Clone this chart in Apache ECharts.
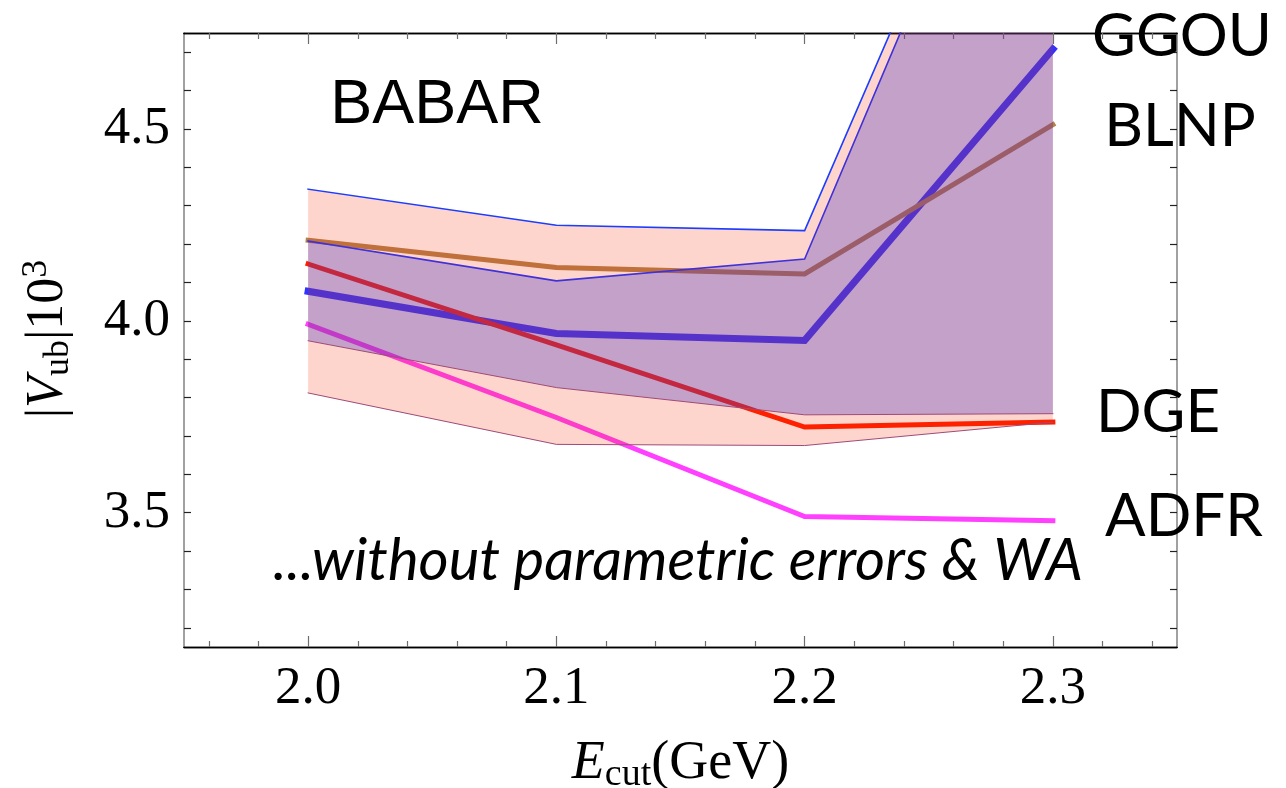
<!DOCTYPE html>
<html>
<head>
<meta charset="utf-8">
<script src="https://cdn.jsdelivr.net/npm/echarts@6/dist/echarts.min.js"></script>
<style>
  html, body { margin: 0; padding: 0; background: #ffffff; }
  #chart { width: 1286px; height: 788px; }
</style>
</head>
<body>
<div id="chart"></div>
<script>
// Cut energy values (GeV)
const ecut = [2.0, 2.1, 2.2, 2.3];

// |Vub| x 10^3 central values per theory framework
const ggou = [4.077, 3.967, 3.949, 4.708];
const blnp = [4.210, 4.139, 4.122, 4.511];
const dge  = [4.148, 3.937, 3.723, 3.736];
const adfr = [3.991, 3.748, 3.490, 3.479];

// Error bands: outer (salmon) and inner (purple)
const outerUpper = [4.343, 4.249, 4.235, 5.730];
const outerLower = [3.812, 3.678, 3.675, 3.736];
const innerUpper = [4.208, 4.104, 4.161, 5.690];
const innerLower = [3.948, 3.826, 3.755, 3.758];

// Axis ticks and labels
const xMajorTicks = [2.0, 2.1, 2.2, 2.3];
const xMinorTicks = [1.96, 1.98, 2.02, 2.04, 2.06, 2.08, 2.12, 2.14, 2.16, 2.18,
                     2.22, 2.24, 2.26, 2.28, 2.32, 2.34];
const yTicks = [3.2, 3.3, 3.4, 3.5, 3.6, 3.7, 3.8, 3.9, 4.0, 4.1, 4.2, 4.3, 4.4, 4.5, 4.6, 4.7];
const yLabelValues = [3.5, 4.0, 4.5];

const pairs = ys => ecut.map((x, i) => [x, ys[i]]);

const chart = echarts.init(document.getElementById('chart'), null, { renderer: 'canvas' });

const serif = 'Liberation Serif';
const xRange = { min: 1.95, max: 2.35 };
const yRange = { min: 3.15, max: 4.75 };

function xAxisDef(position, ticks, len, showLabels) {
  return Object.assign({
    type: 'value', position: position, gridIndex: 0,
    axisLine: { show: true, onZero: false, lineStyle: { color: '#000', width: 1.4 } },
    axisTick: { show: true, inside: true, length: len, customValues: ticks,
                lineStyle: { color: '#6e6e6e', width: 1.2 } },
    axisLabel: { show: showLabels, customValues: ticks, margin: 16,
                 fontFamily: serif, fontSize: 53, color: '#000',
                 formatter: v => v.toFixed(1) },
    splitLine: { show: false }
  }, xRange);
}

function yAxisDef(position, showLabels) {
  return Object.assign({
    type: 'value', position: position, gridIndex: 0,
    axisLine: { show: true, onZero: false, lineStyle: { color: '#8a8a8a', width: 1.6 } },
    axisTick: { show: true, inside: true, length: 7, customValues: yTicks,
                lineStyle: { color: '#222', width: 1.2 } },
    axisLabel: { show: showLabels, customValues: yLabelValues, margin: 14,
                 fontFamily: serif, fontSize: 53, color: '#000',
                 formatter: v => v.toFixed(1) },
    splitLine: { show: false }
  }, yRange);
}

const xBottom = xAxisDef('bottom', xMajorTicks, 11, true);
xBottom.name = '{e|E}{s|cut}{n|(GeV)}';
xBottom.nameLocation = 'middle';
xBottom.nameGap = 87;
xBottom.nameMoveOverlap = false;
xBottom.nameTextStyle = {
  rich: {
    e: { fontFamily: serif, fontStyle: 'italic', fontSize: 54, lineHeight: 60, color: '#000' },
    s: { fontFamily: serif, fontSize: 38, lineHeight: 38, verticalAlign: 'bottom', color: '#000' },
    n: { fontFamily: serif, fontSize: 54, lineHeight: 60, color: '#000' }
  }
};

function curve(name, ys, color, width, z) {
  return {
    name: name, type: 'line', data: pairs(ys), z: z,
    xAxisIndex: 0, yAxisIndex: 0,
    showSymbol: false, symbol: 'none', silent: true,
    lineStyle: { color: color, width: width, cap: 'square', join: 'miter' }
  };
}

// Filled band between an upper and a lower curve, clipped to the plot area
function band(name, hi, lo, fill, z) {
  return {
    name: name, type: 'custom', z: z, silent: true, clip: true,
    xAxisIndex: 0, yAxisIndex: 0,
    data: [[ecut[0], lo[0]]],
    renderItem: function (params, api) {
      const pts = [];
      for (let i = 0; i < ecut.length; i++) pts.push(api.coord([ecut[i], hi[i]]));
      for (let i = ecut.length - 1; i >= 0; i--) pts.push(api.coord([ecut[i], lo[i]]));
      const cs = params.coordSys;
      return {
        type: 'polygon',
        shape: { points: pts },
        style: { fill: fill, stroke: null },
        clipPath: { type: 'rect', shape: { x: cs.x, y: cs.y, width: cs.width, height: cs.height } }
      };
    }
  };
}

const option = {
  animation: false,
  backgroundColor: '#ffffff',
  grid: { left: 184, right: 109, top: 33, bottom: 141, containLabel: false, outerBoundsMode: 'none' },
  xAxis: [
    xBottom,
    xAxisDef('bottom', xMinorTicks, 6, false),
    xAxisDef('top', xMajorTicks, 11, false),
    xAxisDef('top', xMinorTicks, 6, false)
  ],
  yAxis: [
    yAxisDef('left', true),
    yAxisDef('right', false)
  ],
  series: [
    curve('GGOU', ggou, '#3232ff', 7, 2),
    curve('BLNP', blnp, '#b3814a', 5, 2),
    curve('DGE', dge, '#ff1e00', 5, 2),
    curve('ADFR', adfr, '#ff40ff', 5, 2),

    band('outer band', outerUpper, outerLower, 'rgba(245,45,0,0.2)', 3),
    band('inner band', innerUpper, innerLower, 'rgba(80,55,195,0.33)', 4),

    curve('outer upper', outerUpper, '#1c3cff', 1.6, 5),
    curve('outer lower', outerLower, '#a04a78', 1, 5),
    curve('inner upper', innerUpper, '#4030d8', 1.6, 5),
    curve('inner lower', innerLower, '#a04a78', 1, 5)
  ],
  graphic: [
    { type: 'text', x: 48, y: 339, rotation: Math.PI / 2, z: 10,
      style: {
        text: '{n||}{v|V}{s|ub}{n||10}{p|3}',
        align: 'center', verticalAlign: 'middle',
        rich: {
          n: { fontFamily: serif, fontSize: 52, lineHeight: 58, fill: '#000' },
          v: { fontFamily: serif, fontStyle: 'italic', fontSize: 52, lineHeight: 58, fill: '#000' },
          s: { fontFamily: serif, fontSize: 36, lineHeight: 36, verticalAlign: 'bottom', fill: '#000' },
          p: { fontFamily: serif, fontSize: 36, lineHeight: 36, verticalAlign: 'top', fill: '#000' }
        }
      } },
    { type: 'text', x: 437, y: 106, z: 10,
      style: { text: 'BABAR', font: '63px "Liberation Sans"', fill: '#000', align: 'center', verticalAlign: 'middle' } },
    { type: 'text', x: 1182, y: 37, z: 10,
      style: { text: 'GGOU', font: '60px Lato', fill: '#000', align: 'center', verticalAlign: 'middle' } },
    { type: 'text', x: 1180, y: 127, z: 10,
      style: { text: 'BLNP', font: '60px Lato', fill: '#000', align: 'center', verticalAlign: 'middle' } },
    { type: 'text', x: 1158, y: 413, z: 10,
      style: { text: 'DGE', font: '60px Lato', fill: '#000', align: 'center', verticalAlign: 'middle' } },
    { type: 'text', x: 1184, y: 517, z: 10,
      style: { text: 'ADFR', font: '60px Lato', fill: '#000', align: 'center', verticalAlign: 'middle' } },
    { type: 'text', x: 678, y: 561, z: 10,
      style: { text: '...without parametric errors & WA', font: 'italic 58px Lato', fill: '#000', align: 'center', verticalAlign: 'middle' } }
  ]
};

chart.setOption(option);
</script>
</body>
</html>
